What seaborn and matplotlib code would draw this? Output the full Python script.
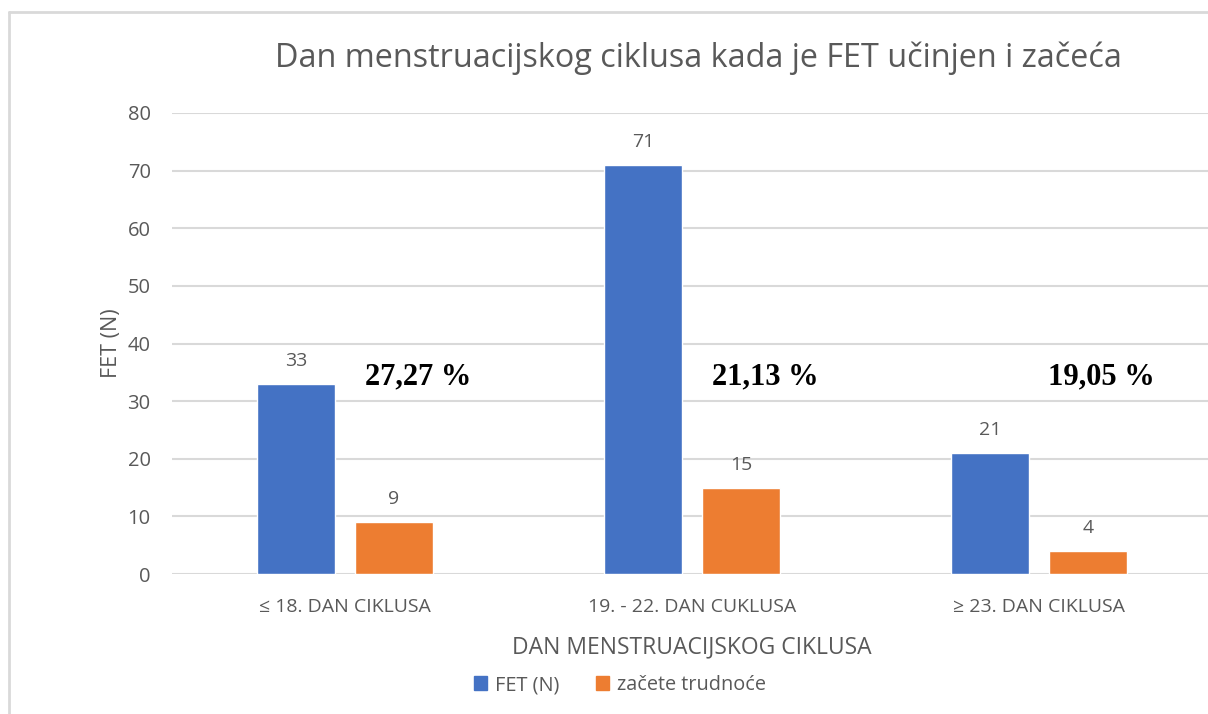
import numpy as np
import pandas as pd
import matplotlib
matplotlib.use("Agg")
import matplotlib.pyplot as plt
import seaborn as sns
from matplotlib.lines import Line2D
from matplotlib.patches import Patch

# podaci
categories = ["≤ 18. DAN CIKLUSA", "19. - 22. DAN CUKLUSA", "≥ 23. DAN CIKLUSA"]
fet_n = [33, 71, 21]
zacete = [9, 15, 4]
series_names = ["FET (N)", "začete trudnoće"]
pct_labels = ["27,27 %", "21,13 %", "19,05 %"]

BLUE = "#4472C4"
ORANGE = "#ED7D31"
GRAY_TXT = "#595959"
GRID = "#D9D9D9"

df = pd.DataFrame({
    "kat": categories * 2,
    "serija": [series_names[0]] * 3 + [series_names[1]] * 3,
    "n": fet_n + zacete,
})

sns.set_theme(style="white")
plt.rcParams["font.family"] = ["Open Sans", "DejaVu Sans"]

fig = plt.figure(figsize=(12.08, 7.14), dpi=100)
ax = fig.add_axes([171.5 / 1208, 140 / 714, 1041 / 1208, 461 / 714])

sns.barplot(data=df, x="kat", y="n", hue="serija", order=categories,
            hue_order=series_names, palette=[BLUE, ORANGE],
            width=0.565, gap=0.2, saturation=1, legend=False, ax=ax)

for cont in ax.containers:
    ax.bar_label(cont, padding=10, fontsize=14, color=GRAY_TXT)

# postotci (Times bold)
for i, t in enumerate(pct_labels):
    ax.text(i + [0.21, 0.21, 0.18][i], 34.2, t, ha="center", va="center",
            fontsize=22, fontweight="bold", family="Liberation Serif",
            color="black")

ax.set_ylim(0, 80)
ax.set_yticks(range(0, 81, 10))
ax.set_xlim(-0.5, 2.5)
ax.yaxis.grid(True, color=GRID, linewidth=1.5)
ax.set_axisbelow(True)
for s in ax.spines.values():
    s.set_visible(False)
ax.tick_params(axis="y", length=0, pad=15, labelsize=14.5, labelcolor=GRAY_TXT)
ax.tick_params(axis="x", length=0, pad=17, labelsize=14, labelcolor=GRAY_TXT)
ax.set_xlabel("DAN MENSTRUACIJSKOG CIKLUSA", fontsize=16.5, color=GRAY_TXT,
              labelpad=14)
ax.set_ylabel("FET (N)", fontsize=15.5, color=GRAY_TXT, labelpad=4)

fig.text(698 / 1208, 1 - 58 / 714,
         "Dan menstruacijskog ciklusa kada je FET učinjen i začeća",
         ha="center", va="center", fontsize=23.3, color=GRAY_TXT)

handles = [Patch(color=BLUE), Patch(color=ORANGE)]
fig.legend(handles, series_names, loc="center", ncol=2, frameon=False,
           bbox_to_anchor=(620 / 1208, 1 - 685 / 714), fontsize=14.3,
           handlelength=0.7, handleheight=0.7, handletextpad=0.4,
           columnspacing=1.8, labelcolor=GRAY_TXT)

# okvir grafikona
fig.add_artist(Line2D([9 / 1208, 9 / 1208], [0, 1 - 12 / 714],
                      transform=fig.transFigure, color=GRID, lw=2))
fig.add_artist(Line2D([9 / 1208, 1], [1 - 12 / 714, 1 - 12 / 714],
                      transform=fig.transFigure, color=GRID, lw=2))

fig.savefig("out.png", dpi=100)
